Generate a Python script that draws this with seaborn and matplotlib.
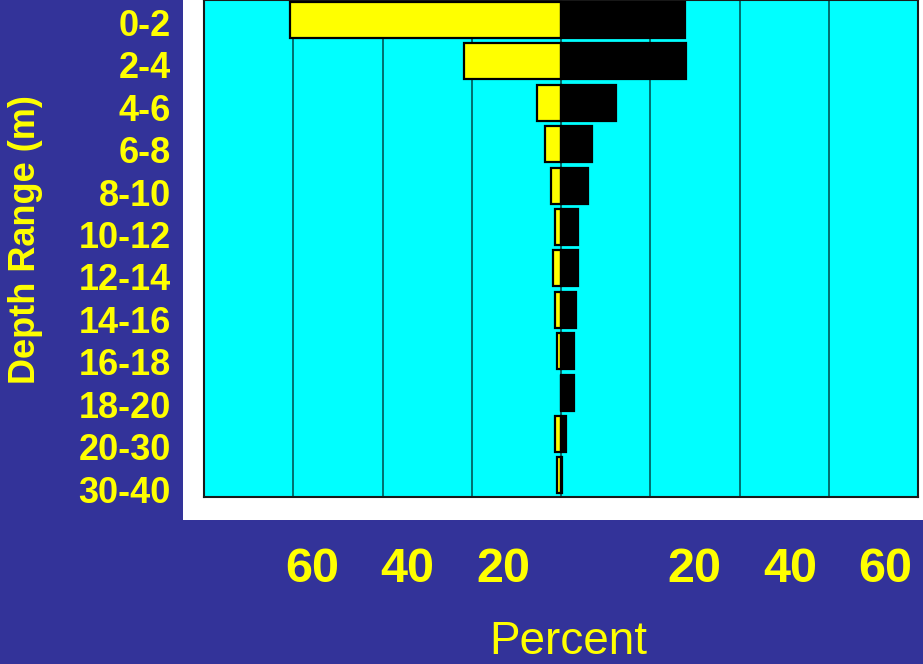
import pandas as pd
import matplotlib
matplotlib.use("Agg")
import matplotlib.pyplot as plt
import seaborn as sns
from matplotlib.patches import Rectangle

# depth classes (m) and percent of each group
depths = ['0-2', '2-4', '4-6', '6-8', '8-10', '10-12', '12-14',
          '14-16', '16-18', '18-20', '20-30', '30-40']
left_pct = [60.8, 21.8, 5.3, 3.5, 2.2, 1.3, 1.8, 1.3, 0.85, 0.0, 1.3, 0.95]
right_pct = [27.7, 28.1, 12.4, 7.0, 6.1, 3.8, 3.8, 3.3, 2.9, 3.0, 1.1, 0.3]
tick_vals = [-60, -40, -20, 20, 40, 60]
tick_labels = ['60', '40', '20', '20', '40', '60']

df = pd.DataFrame({
    'depth': depths * 2,
    'side': ['left'] * len(depths) + ['right'] * len(depths),
    'pct': [-v for v in left_pct] + right_pct,
})

navy = '#333399'
yellow = '#FFFF00'
sans = ['Liberation Sans', 'DejaVu Sans']

sns.set_style('white')
plt.rcParams['font.family'] = sans

fig = plt.figure(figsize=(9.23, 6.64), dpi=100, facecolor=navy)
# white panel behind the plot
fig.patches.append(Rectangle((183 / 923, 1 - 520 / 664), 1, 520 / 664,
                             transform=fig.transFigure, facecolor='white',
                             edgecolor='none', zorder=-5))

ax = fig.add_axes([204 / 923, 1 - 497 / 664, 714 / 923, 497 / 664])
ax.set_facecolor('#00FFFF')
sns.barplot(data=df, x='pct', y='depth', hue='side', orient='h',
            palette={'left': yellow, 'right': 'black'}, dodge=False,
            saturation=1, width=0.87, edgecolor='black', linewidth=1.6,
            legend=False, zorder=3, ax=ax)
ax.set_xlim(-80, 80)
ax.set_ylim(11.52, -0.48)
ax.set_xticks([-60, -40, -20, 0, 20, 40, 60])
ax.set_xticklabels([])
ax.set_yticks([])
ax.tick_params(length=0)
ax.grid(True, axis='x', color='#007070', linewidth=1.4)
ax.set_axisbelow(True)
ax.set_xlabel('')
ax.set_ylabel('')
for s in ax.spines.values():
    s.set_color('#1a1a1a')
    s.set_linewidth(1.5)

# depth labels (spaced a little wider than the bars, as in the original)
ax2 = ax.twinx()
ax2.yaxis.set_ticks_position('left')
ax2.set_ylim(11.18, -0.52)
ax2.set_yticks(range(len(depths)))
ax2.set_yticklabels(depths, color=yellow, fontsize=26, fontweight='bold')
ax2.tick_params(axis='y', length=0, pad=24)
for s in ax2.spines.values():
    s.set_visible(False)

# percent labels along the bottom
ax3 = ax.twiny()
ax3.xaxis.set_ticks_position('bottom')
ax3.set_xlim(-82.6, 66.8)
ax3.set_xticks(tick_vals)
ax3.set_xticklabels(tick_labels, color=yellow, fontsize=35,
                    fontweight='bold')
ax3.tick_params(axis='x', length=0, pad=36)
for s in ax3.spines.values():
    s.set_visible(False)

fig.text(26 / 923, 1 - 240 / 664, 'Depth Range (m)', rotation=90,
         color=yellow, fontsize=26, fontweight='bold', ha='center',
         va='center')
fig.text(568 / 923, 0.0, 'Percent', color=yellow, fontsize=33,
         ha='center', va='bottom')

fig.savefig('out.png', dpi=100, facecolor=navy)
